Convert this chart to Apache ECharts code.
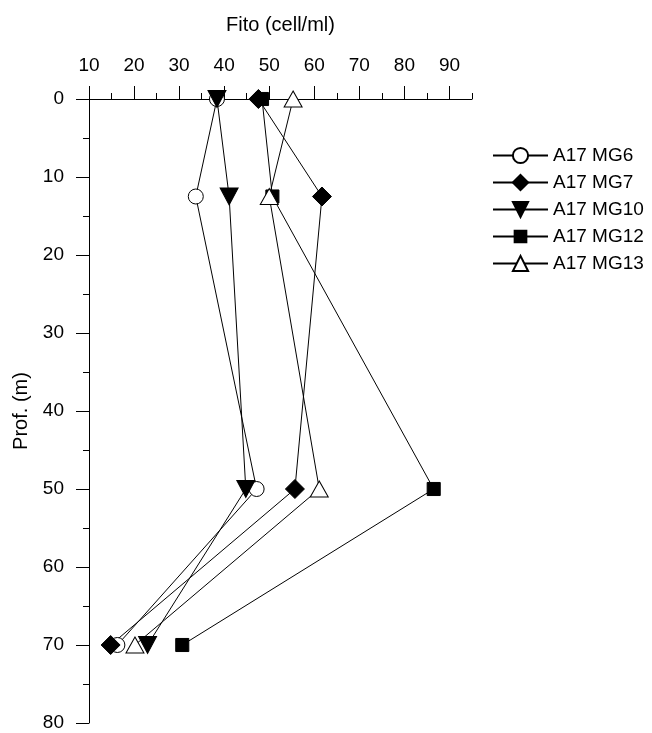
<!DOCTYPE html>
<html>
<head>
<meta charset="utf-8">
<script src="https://cdn.jsdelivr.net/npm/echarts@6/dist/echarts.min.js"></script>
<style>
  html, body { margin: 0; padding: 0; background: #fff; }
  #chart { width: 652px; height: 733px; }
</style>
</head>
<body>
<div id="chart"></div>
<script>
// Sampling depths (m) and phytoplankton counts (cell/ml) per station
const depths = [0, 12.5, 50, 70];
const mg6  = [38.4, 33.7, 47.2, 16.3];
const mg7  = [47.6, 61.7, 55.7, 14.8];
const mg10 = [38.4, 41.1, 44.8, 23.0];
const mg12 = [48.4, 50.7, 86.5, 30.7];
const mg13 = [55.3, 50.0, 61.1, 20.2];

const seriesNames = ['A17 MG6', 'A17 MG7', 'A17 MG10', 'A17 MG12', 'A17 MG13'];
const majorTicks = [10, 20, 30, 40, 50, 60, 70, 80, 90];
const minorTicks = [15, 25, 35, 45, 55, 65, 75, 85, 95];

const FONT = 'Liberation Sans, Arial, sans-serif';

function profile(values) {
  return values.map((v, i) => [v, depths[i]]);
}

function makeSeries(name, values, symbol, size, fill) {
  return {
    name: name,
    type: 'line',
    data: profile(values),
    symbol: symbol,
    symbolSize: size,
    showAllSymbol: true,
    color: '#000',
    lineStyle: { color: '#000', width: 1 },
    itemStyle: { color: fill, borderColor: '#000', borderWidth: 1 },
    emphasis: { disabled: true },
    animation: false
  };
}

// Marker shapes; the square carries empty margins so its legend icon stays small
const downTriangle = 'path://M0,0 L20,0 L10,18 Z';
const upTriangle = 'path://M10,0 L20,18 L0,18 Z';
const paddedSquare = 'path://M0,0 M26,26 M3,3 L23,3 L23,23 L3,23 Z';

const chart = echarts.init(document.getElementById('chart'), null, { renderer: 'canvas' });
chart.setOption({
  backgroundColor: '#fff',
  animation: false,
  textStyle: { fontFamily: FONT, color: '#000' },
  grid: { left: 89, right: 180, top: 99, bottom: 10, containLabel: false },
  xAxis: [
    {
      type: 'value',
      position: 'top',
      min: 10,
      max: 95,
      name: 'Fito (cell/ml)',
      nameLocation: 'middle',
      nameGap: 64,
      nameTextStyle: { fontSize: 20, color: '#000', fontFamily: FONT },
      axisLine: { show: true, lineStyle: { color: '#000', width: 1 } },
      axisTick: { show: true, inside: false, length: 13, customValues: majorTicks, lineStyle: { color: '#000', width: 1 } },
      axisLabel: { show: true, margin: 24, fontSize: 19, color: '#000', fontFamily: FONT, customValues: majorTicks },
      splitLine: { show: false }
    },
    {
      type: 'value',
      position: 'top',
      min: 10,
      max: 95,
      axisLine: { show: false },
      axisTick: { show: true, inside: false, length: 6, customValues: minorTicks, lineStyle: { color: '#000', width: 1 } },
      axisLabel: { show: false },
      splitLine: { show: false }
    }
  ],
  yAxis: {
    type: 'value',
    inverse: true,
    min: 0,
    max: 80,
    interval: 10,
    name: 'Prof. (m)',
    nameLocation: 'middle',
    nameGap: 56,
    nameRotate: 90,
    nameTextStyle: { fontSize: 20, color: '#000', fontFamily: FONT },
    axisLine: { show: true, onZero: false, lineStyle: { color: '#000', width: 1 } },
    axisTick: { show: true, inside: false, length: 13, lineStyle: { color: '#000', width: 1 } },
    minorTick: { show: true, splitNumber: 2, length: 6, lineStyle: { color: '#000', width: 1 } },
    axisLabel: { margin: 25, fontSize: 19, color: '#000', fontFamily: FONT },
    splitLine: { show: false },
    minorSplitLine: { show: false }
  },
  legend: {
    orient: 'vertical',
    left: 487,
    top: 141,
    itemWidth: 55,
    itemHeight: 19,
    itemGap: 8,
    selectedMode: false,
    textStyle: { fontSize: 19, color: '#000', fontFamily: FONT },
    data: seriesNames
  },
  series: [
    makeSeries(seriesNames[0], mg6, 'circle', 15, '#fff'),
    makeSeries(seriesNames[1], mg7, 'diamond', 19, '#000'),
    makeSeries(seriesNames[2], mg10, downTriangle, [18, 17], '#000'),
    makeSeries(seriesNames[3], mg12, paddedSquare, 17, '#000'),
    makeSeries(seriesNames[4], mg13, upTriangle, [18, 16], '#fff')
  ]
});
</script>
</body>
</html>
